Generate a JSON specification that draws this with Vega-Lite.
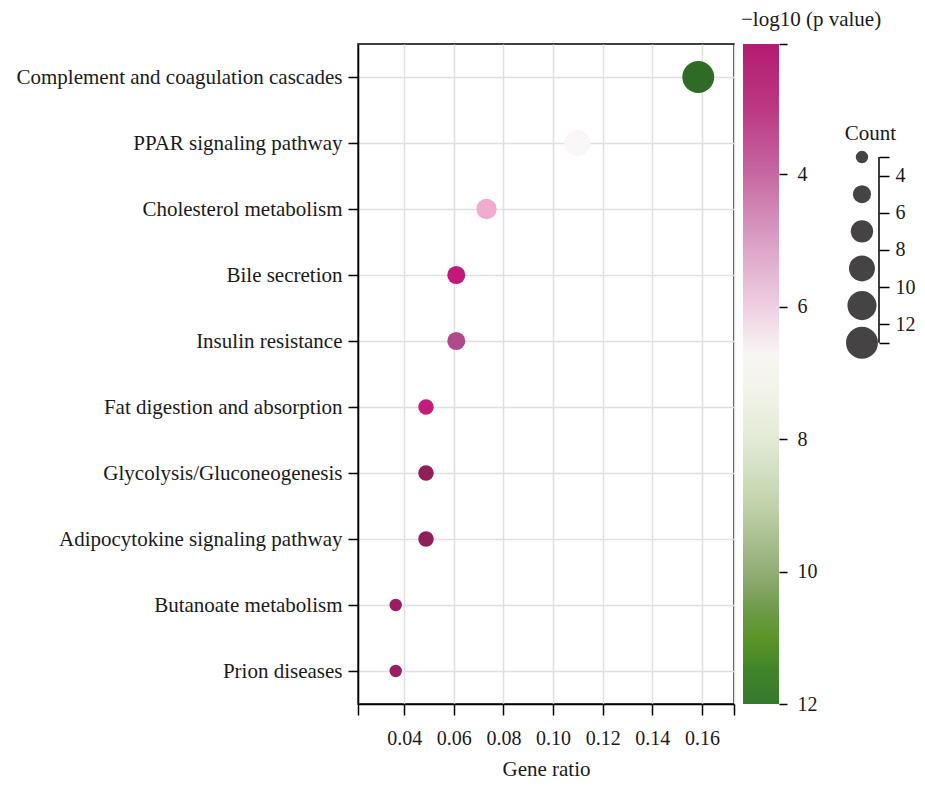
{
  "$schema": "https://vega.github.io/schema/vega-lite/v6.json",
  "background": "white",
  "padding": {"left": 15, "top": 9, "right": 5, "bottom": 5},
  "config": {
    "font": "Liberation Serif",
    "view": {"stroke": null},
    "axis": {
      "labelFont": "Liberation Serif",
      "titleFont": "Liberation Serif",
      "labelColor": "#1a1a1a",
      "titleColor": "#1a1a1a",
      "titleFontWeight": "normal",
      "domainColor": "black",
      "tickColor": "black",
      "domainWidth": 1.5,
      "tickWidth": 1.5
    },
    "title": {"font": "Liberation Serif", "fontWeight": "normal", "color": "#1a1a1a"}
  },
  "bounds": "flush",
  "spacing": 9,
  "hconcat": [
    {
      "width": 376,
      "height": 660,
      "view": {"stroke": "black", "strokeWidth": 1.5},
      "data": {
        "values": [
          {"pathway": "Complement and coagulation cascades", "ratio": 0.1585, "count": 13, "logp": 12},
          {"pathway": "PPAR signaling pathway", "ratio": 0.1098, "count": 9, "logp": 6.9},
          {"pathway": "Cholesterol metabolism", "ratio": 0.0732, "count": 6, "logp": 5.5},
          {"pathway": "Bile secretion", "ratio": 0.061, "count": 5, "logp": 2.2},
          {"pathway": "Insulin resistance", "ratio": 0.061, "count": 5, "logp": 3.6},
          {"pathway": "Fat digestion and absorption", "ratio": 0.0488, "count": 4, "logp": 2.3},
          {"pathway": "Glycolysis/Gluconeogenesis", "ratio": 0.0488, "count": 4, "logp": 1.4},
          {"pathway": "Adipocytokine signaling pathway", "ratio": 0.0488, "count": 4, "logp": 1.4},
          {"pathway": "Butanoate metabolism", "ratio": 0.0366, "count": 3, "logp": 1.6},
          {"pathway": "Prion diseases", "ratio": 0.0366, "count": 3, "logp": 1.6}
        ]
      },
      "mark": {"type": "circle", "opacity": 1},
      "encoding": {
        "x": {
          "field": "ratio",
          "type": "quantitative",
          "scale": {"domain": [0.0214, 0.1729], "nice": false, "zero": false},
          "axis": {
            "title": "Gene ratio",
            "values": [0.0214, 0.04, 0.06, 0.08, 0.1, 0.12, 0.14, 0.16, 0.1729],
            "labelExpr": "datum.value < 0.03 || datum.value > 0.17 ? '' : format(datum.value, '.2f')",
            "tickSize": 11,
            "labelPadding": 13,
            "labelFontSize": 20,
            "titleFontSize": 21,
            "titlePadding": 10,
            "labelFlush": false,
            "labelOverlap": false,
            "grid": true,
            "gridColor": "#e0e0e0",
            "gridWidth": 1.5
          }
        },
        "y": {
          "field": "pathway",
          "type": "nominal",
          "sort": null,
          "axis": {
            "title": null,
            "tickSize": 10,
            "labelPadding": 6,
            "labelFontSize": 21,
            "labelLimit": 600,
            "grid": true,
            "gridColor": "#e0e0e0",
            "gridWidth": 1.5
          }
        },
        "size": {
          "field": "count",
          "type": "quantitative",
          "scale": {"domain": [3, 13], "range": [154, 1018], "zero": false},
          "legend": null
        },
        "color": {
          "field": "logp",
          "type": "quantitative",
          "scale": {
            "domain": [1.4, 2.2, 3.6, 5.5, 6.9, 12],
            "range": ["#8e1f58", "#c21a7b", "#b04a8a", "#f2aacf", "#fbf7f8", "#2d6b27"],
            "interpolate": "rgb"
          },
          "legend": null
        }
      }
    },
    {
      "width": 36,
      "height": 660,
      "title": {"text": "−log10 (p value)", "anchor": "start", "frame": "group", "fontSize": 21, "offset": 13, "dx": -2},
      "data": {"values": [{"lo": 2.03, "hi": 12}]},
      "mark": {
        "type": "rect",
        "fill": {
          "gradient": "linear",
          "x1": 0, "y1": 0, "x2": 0, "y2": 1,
          "stops": [
            {"offset": 0, "color": "#b51b71"},
            {"offset": 0.1, "color": "#bb3a82"},
            {"offset": 0.2, "color": "#c76aa3"},
            {"offset": 0.3, "color": "#dba0c5"},
            {"offset": 0.4, "color": "#efd0e2"},
            {"offset": 0.47, "color": "#f8f6f3"},
            {"offset": 0.52, "color": "#f3f4eb"},
            {"offset": 0.6, "color": "#e2ead6"},
            {"offset": 0.7, "color": "#c1d2aa"},
            {"offset": 0.8, "color": "#93ad76"},
            {"offset": 0.86, "color": "#6c9a48"},
            {"offset": 0.9, "color": "#5b9527"},
            {"offset": 0.95, "color": "#40842b"},
            {"offset": 1, "color": "#357a2c"}
          ]
        }
      },
      "encoding": {
        "y": {
          "field": "lo",
          "type": "quantitative",
          "scale": {"domain": [2.03, 12], "reverse": true, "nice": false, "zero": false},
          "axis": {
            "orient": "right",
            "title": null,
            "values": [2.03, 4, 6, 8, 10, 12],
            "labelExpr": "datum.value < 3 ? '' : datum.label",
            "domain": false,
            "grid": false,
            "tickSize": 8,
            "labelPadding": 10,
            "labelFontSize": 20,
            "labelBaseline": "middle"
          }
        },
        "y2": {"field": "hi"}
      }
    },
    {
      "width": 91,
      "height": 660,
      "data": {"values": [{"count": 3}, {"count": 5}, {"count": 7}, {"count": 9}, {"count": 11}, {"count": 13}]},
      "layer": [
        {
          "mark": {"type": "circle", "color": "#454343", "opacity": 1},
          "encoding": {
            "x": {"datum": 0.813, "type": "quantitative", "scale": {"domain": [0, 1]}, "axis": null},
            "y": {
              "field": "count",
              "type": "quantitative",
              "scale": {"domain": [-3.09, 32.46], "reverse": true, "nice": false, "zero": false},
              "axis": {
                "orient": "right",
                "values": [3, 4, 6, 8, 10, 12, 13],
                "labelExpr": "datum.value == 3 || datum.value == 13 ? '' : datum.label",
                "domain": false,
                "grid": false,
                "tickSize": 10,
                "labelPadding": 6,
                "labelFontSize": 20,
                "title": "Count",
                "titleAngle": 0,
                "titleFontSize": 21,
                "titleAlign": "center",
                "titleBaseline": "middle",
                "titleX": -9,
                "titleY": 89
              }
            },
            "size": {
              "field": "count",
              "type": "quantitative",
              "scale": {"domain": [3, 13], "range": [154, 1018], "zero": false},
              "legend": null
            }
          }
        },
        {
          "data": {"values": [{"a": 3, "b": 13}]},
          "mark": {"type": "rule", "color": "black", "strokeWidth": 1.5},
          "encoding": {
            "y": {"field": "a", "type": "quantitative"},
            "y2": {"field": "b"},
            "x": {"datum": 1, "type": "quantitative"}
          }
        }
      ]
    }
  ]
}
